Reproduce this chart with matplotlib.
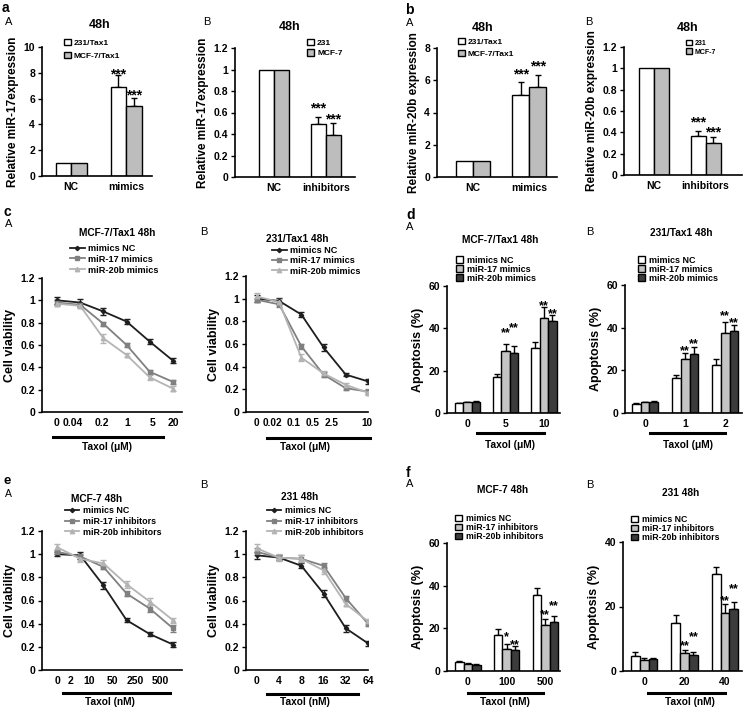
import matplotlib
matplotlib.use('Agg')
import matplotlib.pyplot as plt
from matplotlib.patches import Patch
from matplotlib.lines import Line2D
import numpy as np

plt.rcParams['font.family'] = 'Liberation Sans'
plt.rcParams['font.weight'] = 'bold'
plt.rcParams['axes.labelweight'] = 'bold'

W, H = 746, 709

# ---------------- data ----------------
# a-A  miR-17, resistant lines
aA_groups = ['NC', 'mimics']
aA_231 = [1.0, 6.9]
aA_231_err = [0, 0.9]
aA_mcf = [1.0, 5.45]
aA_mcf_err = [0, 0.6]
aA_stars = [['', '***'], ['', '***']]
aA_star_y = [[0, 8.2], [0, 6.6]]

# a-B  miR-17, parental lines
aB_groups = ['NC', 'inhibitors']
aB_231 = [1.0, 0.49]
aB_231_err = [0, 0.07]
aB_mcf = [1.0, 0.39]
aB_mcf_err = [0, 0.11]
aB_stars = [['', '***'], ['', '***']]
aB_star_y = [[0, 0.68], [0, 0.58]]

# b-A  miR-20b, resistant lines
bA_groups = ['NC', 'mimics']
bA_231 = [1.0, 5.1]
bA_231_err = [0, 0.8]
bA_mcf = [1.0, 5.6]
bA_mcf_err = [0, 0.7]
bA_stars = [['', '***'], ['', '***']]
bA_star_y = [[0, 6.6], [0, 7.1]]

# b-B  miR-20b, parental lines
bB_groups = ['NC', 'inhibitors']
bB_231 = [1.0, 0.37]
bB_231_err = [0, 0.04]
bB_mcf = [1.0, 0.30]
bB_mcf_err = [0, 0.06]
bB_stars = [['', '***'], ['', '***']]
bB_star_y = [[0, 0.53], [0, 0.44]]

# c  cell viability, mimics
cA_doses = ['0', '0.04', '0.2', '1', '5', '20']
cA_label_at = [-0.04, 0.69, 1.94, 3.02, 4.1, 5.0]   # labels were hand placed in the original
cA_nc = [1.0, 0.98, 0.90, 0.81, 0.63, 0.46]
cA_nc_err = [0.03, 0.03, 0.03, 0.02, 0.02, 0.02]
cA_17 = [0.98, 0.96, 0.79, 0.60, 0.36, 0.27]
cA_17_err = [0.02, 0.02, 0.02, 0.02, 0.02, 0.015]
cA_20b = [0.97, 0.95, 0.66, 0.51, 0.31, 0.21]
cA_20b_err = [0.02, 0.02, 0.04, 0.02, 0.02, 0.02]

cB_doses = ['0', '0.02', '0.1', '0.5', '2.5', '10']
cB_label_at = [-0.02, 0.68, 1.64, 2.52, 3.37, 4.95]
cB_nc = [1.0, 0.98, 0.86, 0.57, 0.33, 0.27]
cB_nc_err = [0.03, 0.03, 0.02, 0.03, 0.015, 0.02]
cB_17 = [0.99, 0.95, 0.58, 0.33, 0.21, 0.18]
cB_17_err = [0.02, 0.02, 0.02, 0.02, 0.015, 0.02]
cB_20b = [1.02, 0.97, 0.48, 0.34, 0.24, 0.17]
cB_20b_err = [0.03, 0.03, 0.03, 0.02, 0.02, 0.02]

# d  apoptosis, mimics
dA_doses = ['0', '5', '10']
dA_nc = [4.5, 17.0, 30.5]
dA_nc_err = [0.4, 1.2, 3.0]
dA_17 = [5.0, 29.5, 45.0]
dA_17_err = [0.3, 3.0, 5.0]
dA_20b = [5.3, 28.5, 43.5]
dA_20b_err = [0.4, 3.2, 3.0]
dA_stars = [['', '', ''], ['', '**', '**'], ['', '**', '**']]
dA_star_y = [[0, 0, 0], [0, 40.0, 52.6], [0, 42.4, 48.7]]

dB_doses = ['0', '1', '2']
dB_nc = [4.2, 16.3, 22.5]
dB_nc_err = [0.3, 1.3, 2.6]
dB_17 = [5.0, 25.5, 37.5]
dB_17_err = [0.3, 2.6, 5.2]
dB_20b = [5.3, 27.5, 38.5]
dB_20b_err = [0.4, 3.4, 2.8]
dB_stars = [['', '', ''], ['', '**', '**'], ['', '**', '**']]
dB_star_y = [[0, 0, 0], [0, 31.2, 47.5], [0, 34.3, 44.4]]

# e  cell viability, inhibitors
eA_doses = ['0', '2', '10', '50', '250', '500']
eA_label_at = [0.04, 0.6, 1.38, 2.37, 3.36, 4.44]
eA_nc = [1.0, 0.99, 0.73, 0.43, 0.31, 0.22]
eA_nc_err = [0.02, 0.03, 0.03, 0.015, 0.02, 0.02]
eA_17 = [1.02, 0.98, 0.89, 0.66, 0.53, 0.36]
eA_17_err = [0.02, 0.02, 0.02, 0.02, 0.03, 0.03]
eA_20b = [1.06, 0.96, 0.92, 0.74, 0.59, 0.43]
eA_20b_err = [0.03, 0.03, 0.03, 0.03, 0.03, 0.02]

eB_doses = ['0', '4', '8', '16', '32', '64']
eB_label_at = [0, 1, 2, 3, 4, 5]
eB_nc = [0.99, 0.97, 0.90, 0.66, 0.36, 0.23]
eB_nc_err = [0.03, 0.02, 0.02, 0.03, 0.03, 0.02]
eB_17 = [1.02, 0.97, 0.96, 0.90, 0.62, 0.40]
eB_17_err = [0.03, 0.02, 0.03, 0.02, 0.02, 0.02]
eB_20b = [1.05, 0.97, 0.96, 0.86, 0.57, 0.42]
eB_20b_err = [0.04, 0.03, 0.03, 0.03, 0.02, 0.02]

# f  apoptosis, inhibitors
fA_doses = ['0', '100', '500']
fA_nc = [4.0, 17.0, 35.5]
fA_nc_err = [0.5, 2.8, 3.5]
fA_17 = [3.3, 10.5, 21.5]
fA_17_err = [0.3, 2.0, 2.7]
fA_20b = [2.8, 10.0, 23.0]
fA_20b_err = [0.3, 1.5, 3.0]
fA_stars = [['', '', ''], ['', '*', '**'], ['', '**', '**']]
fA_star_y = [[0, 0, 0], [0, 17.8, 28.4], [0, 14.4, 32.3]]

fB_doses = ['0', '20', '40']
fB_nc = [4.8, 15.0, 30.0]
fB_nc_err = [1.2, 2.3, 2.2]
fB_17 = [3.5, 5.5, 18.0]
fB_17_err = [0.5, 1.0, 2.8]
fB_20b = [3.7, 5.0, 19.3]
fB_20b_err = [0.3, 1.0, 2.2]
fB_stars = [['', '', ''], ['', '**', '**'], ['', '**', '**']]
fB_star_y = [[0, 0, 0], [0, 9.0, 23.2], [0, 11.8, 26.9]]

fig = plt.figure(figsize=(W / 100, H / 100), dpi=100)


def px_axes(left, top, right, bottom):
    return fig.add_axes([left / W, 1 - bottom / H, (right - left) / W, (bottom - top) / H])


def style(ax, ylabel, ylim, yticks, ylab_size=8.5):
    for s in ['top', 'right']:
        ax.spines[s].set_visible(False)
    for s in ['left', 'bottom']:
        ax.spines[s].set_linewidth(1.2)
    ax.set_ylim(ylim)
    ax.set_yticks(yticks)
    ax.set_yticklabels(['%g' % t for t in yticks])
    ax.tick_params(axis='y', direction='out', length=3, width=1, labelsize=7.5, pad=2)
    ax.tick_params(axis='x', length=0, labelsize=7.5, pad=4)
    ax.set_ylabel(ylabel, fontsize=ylab_size, labelpad=3)


def bars(ax, groups, series, errs, colors, width, xlim, stars, star_y, star_size=10):
    x = np.arange(len(groups))
    n = len(series)
    for i in range(n):
        pos = x + (i - (n - 1) / 2) * width
        ax.bar(pos, series[i], width, color=colors[i], edgecolor='black', linewidth=1, zorder=2)
        e = np.array(errs[i])
        keep = e > 0
        ax.errorbar(pos[keep], np.array(series[i])[keep], yerr=[np.zeros(keep.sum()), e[keep]],
                    fmt='none', ecolor='black', elinewidth=1, capsize=2.5, capthick=1, zorder=1)
        for j in range(len(groups)):
            if stars[i][j]:
                ax.annotate(stars[i][j], (pos[j], star_y[i][j]), xytext=(0, -0.6 * star_size),
                            textcoords='offset points', ha='center', va='baseline',
                            fontsize=star_size)
    ax.set_xlim(xlim)
    ax.set_xticks(x)
    ax.set_xticklabels(groups)


def lines(ax, doses, label_at, series, errs, xlim):
    x = np.arange(len(doses))
    for i in range(len(series)):
        ax.errorbar(x, series[i], yerr=errs[i], color=line_cols[i], marker=line_marks[i],
                    ms=line_ms[i], lw=1.3, elinewidth=1, capsize=2, capthick=1,
                    mec=line_cols[i])
    ax.set_xlim(xlim)
    ax.set_xticks(label_at)
    ax.set_xticklabels(doses)


def legend(ax, handles, labels, left, top, size, spacing, hl=0.8, hh=0.8):
    ax.legend(handles, labels, loc='upper left', bbox_to_anchor=(left / W, 1 - top / H),
              bbox_transform=fig.transFigure, frameon=False, fontsize=size, handlelength=hl,
              handleheight=hh, handletextpad=0.4, labelspacing=spacing, borderpad=0,
              borderaxespad=0)


def txt(x, y, s, size, weight='bold', ha='center'):
    fig.text(x / W, 1 - y / H, s, fontsize=size, fontweight=weight, ha=ha, va='center')


def taxol(x0, x1, y, xt, yt, s):
    fig.add_artist(Line2D([x0 / W, x1 / W], [1 - y / H, 1 - y / H], color='black', lw=2.2,
                          transform=fig.transFigure))
    txt(xt, yt, s, 7.3)


two_cols = ['white', '#bdbdbd']
three_cols = ['white', '#c4c4c4', '#3c3c3c']
line_cols = ['#1e1e1e', '#808080', '#b4b4b4']
line_marks = ['D', 's', '^']
line_ms = [2.2, 2.8, 3.2]


def sq(c):
    return Patch(facecolor=c, edgecolor='black', linewidth=1)


def ln(i):
    return Line2D([], [], color=line_cols[i], marker=line_marks[i], ms=line_ms[i], lw=1.3)


# ---------------- row 1 ----------------
ax = px_axes(42, 47, 152, 176)
bars(ax, aA_groups, [aA_231, aA_mcf], [aA_231_err, aA_mcf_err], two_cols, 0.28, (-0.53, 1.47),
     aA_stars, aA_star_y)
style(ax, 'Relative miR-17expression', (0, 10), [0, 2, 4, 6, 8, 10])
legend(ax, [sq(c) for c in two_cols], ['231/Tax1', 'MCF-7/Tax1'], 64, 39, 6, 0.6)
txt(100, 25, '48h', 9)
txt(2, 8, 'a', 10, ha='left')
txt(5, 22, 'A', 8, weight='normal', ha='left')

ax = px_axes(235, 48, 355, 177)
bars(ax, aB_groups, [aB_231, aB_mcf], [aB_231_err, aB_mcf_err], two_cols, 0.29, (-0.76, 1.57),
     aB_stars, aB_star_y)
style(ax, 'Relative miR-17expression', (0, 1.2), [0, 0.2, 0.4, 0.6, 0.8, 1, 1.2])
legend(ax, [sq(c) for c in two_cols], ['231', 'MCF-7'], 307, 39, 6, 0.25)
txt(290, 27, '48h', 9)
txt(203, 22, 'B', 8, weight='normal', ha='left')

ax = px_axes(437, 48, 557, 177)
bars(ax, bA_groups, [bA_231, bA_mcf], [bA_231_err, bA_mcf_err], two_cols, 0.3, (-0.64, 1.49),
     bA_stars, bA_star_y)
style(ax, 'Relative miR-20b expression', (0, 8), [0, 2, 4, 6, 8])
legend(ax, [sq(c) for c in two_cols], ['231/Tax1', 'MCF-7/Tax1'], 458, 38, 6, 0.45)
txt(483, 28, '48h', 9)
txt(405, 10, 'b', 10, ha='left')
txt(406, 23, 'A', 8, weight='normal', ha='left')

ax = px_axes(624, 47, 742, 175)
bars(ax, bB_groups, [bB_231, bB_mcf], [bB_231_err, bB_mcf_err], two_cols, 0.29, (-0.57, 1.70),
     bB_stars, bB_star_y)
style(ax, 'Relative miR-20b expression', (0, 1.2), [0, 0.2, 0.4, 0.6, 0.8, 1, 1.2])
legend(ax, [sq(c) for c in two_cols], ['231', 'MCF-7'], 686, 40, 5, 0.2)
txt(688, 28, '48h', 9)
txt(585, 22, 'B', 8, weight='normal', ha='left')

# ---------------- row 2 ----------------
vt = [0, 0.2, 0.4, 0.6, 0.8, 1, 1.2]
ax = px_axes(42, 278, 182, 412)
lines(ax, cA_doses, cA_label_at, [cA_nc, cA_17, cA_20b], [cA_nc_err, cA_17_err, cA_20b_err],
      (-0.65, 5.39))
style(ax, 'Cell viability', (0, 1.2), vt, 9)
legend(ax, [ln(i) for i in range(3)], ['mimics NC', 'miR-17 mimics', 'miR-20b mimics'],
       70, 244, 6.6, 0.2, hl=1.6)
txt(117, 233, 'MCF-7/Tax1 48h', 7.3)
txt(3, 212, 'c', 10, ha='left')
txt(5, 224, 'A', 8, weight='normal', ha='left')
taxol(53, 163, 437, 107, 447, 'Taxol (\u03bcM)')

ax = px_axes(246, 276, 368, 412)
lines(ax, cB_doses, cB_label_at, [cB_nc, cB_17, cB_20b], [cB_nc_err, cB_17_err, cB_20b_err],
      (-0.49, 5.0))
style(ax, 'Cell viability', (0, 1.2), vt, 9)
ax.tick_params(axis='x', labelsize=7.2)
legend(ax, [ln(i) for i in range(3)], ['mimics NC', 'miR-17 mimics', 'miR-20b mimics'],
       272, 246, 6.6, 0.15, hl=1.6)
txt(297, 239, '231/Tax1 48h', 7.3)
txt(200, 232, 'B', 8, weight='normal', ha='left')
taxol(267, 370, 438, 305, 447, 'Taxol (\u03bcM)')

ax = px_axes(447, 286, 560, 413)
bars(ax, dA_doses, [dA_nc, dA_17, dA_20b], [dA_nc_err, dA_17_err, dA_20b_err], three_cols,
     0.22, (-0.53, 2.42), dA_stars, dA_star_y, 9)
style(ax, 'Apoptosis (%)', (0, 60), [0, 20, 40, 60], 9)
legend(ax, [sq(c) for c in three_cols], ['mimics NC', 'miR-17 mimics', 'miR-20b mimics'],
       456, 256, 6.5, 0.0)
txt(500, 240, 'MCF-7/Tax1 48h', 7.3)
txt(406, 215, 'd', 10, ha='left')
txt(406, 227, 'A', 8, weight='normal', ha='left')
taxol(477, 544, 433, 510, 445, 'Taxol (\u03bcM)')

ax = px_axes(625, 285, 742, 413)
bars(ax, dB_doses, [dB_nc, dB_17, dB_20b], [dB_nc_err, dB_17_err, dB_20b_err], three_cols,
     0.22, (-0.5, 2.42), dB_stars, dB_star_y, 9)
style(ax, 'Apoptosis (%)', (0, 60), [0, 20, 40, 60], 9)
legend(ax, [sq(c) for c in three_cols], ['mimics NC', 'miR-17 mimics', 'miR-20b mimics'],
       638, 256, 6.5, 0.0)
txt(681, 233, '231/Tax1 48h', 7.3)
txt(586, 232, 'B', 8, weight='normal', ha='left')
taxol(650, 725, 433, 688, 445, 'Taxol (\u03bcM)')

# ---------------- row 3 ----------------
ax = px_axes(42, 531, 182, 670)
lines(ax, eA_doses, eA_label_at, [eA_nc, eA_17, eA_20b], [eA_nc_err, eA_17_err, eA_20b_err],
      (-0.65, 5.39))
style(ax, 'Cell viability', (0, 1.2), vt, 9)
legend(ax, [ln(i) for i in range(3)], ['mimics NC', 'miR-17 inhibitors', 'miR-20b inhibitors'],
       65, 506, 6.4, 0.2, hl=1.6)
txt(97, 499, 'MCF-7 48h', 7.3)
txt(3, 481, 'e', 9.5, ha='left')
txt(5, 494, 'A', 7.5, weight='normal', ha='left')
taxol(63, 170, 693, 110, 702, 'Taxol (nM)')

ax = px_axes(246, 531, 368, 670)
lines(ax, eB_doses, eB_label_at, [eB_nc, eB_17, eB_20b], [eB_nc_err, eB_17_err, eB_20b_err],
      (-0.49, 5.0))
style(ax, 'Cell viability', (0, 1.2), vt, 9)
legend(ax, [ln(i) for i in range(3)], ['mimics NC', 'miR-17 inhibitors', 'miR-20b inhibitors'],
       267, 506, 6.4, 0.2, hl=1.6)
txt(300, 497, '231 48h', 7.3)
txt(200, 485, 'B', 8, weight='normal', ha='left')
taxol(267, 358, 694, 305, 702, 'Taxol (nM)')

ax = px_axes(447, 543, 560, 671)
bars(ax, fA_doses, [fA_nc, fA_17, fA_20b], [fA_nc_err, fA_17_err, fA_20b_err], three_cols,
     0.22, (-0.54, 2.38), fA_stars, fA_star_y, 9)
style(ax, 'Apoptosis (%)', (0, 60), [0, 20, 40, 60], 9)
legend(ax, [sq(c) for c in three_cols], ['mimics NC', 'miR-17 inhibitors', 'miR-20b inhibitors'],
       455, 514, 6.3, 0.0)
txt(503, 490, 'MCF-7 48h', 7.3)
txt(406, 473, 'f', 10, ha='left')
txt(406, 484, 'A', 8, weight='normal', ha='left')
taxol(468, 543, 693, 505, 702, 'Taxol (nM)')

ax = px_axes(623, 542, 742, 671)
bars(ax, fB_doses, [fB_nc, fB_17, fB_20b], [fB_nc_err, fB_17_err, fB_20b_err], three_cols,
     0.22, (-0.52, 2.42), fB_stars, fB_star_y, 9)
style(ax, 'Apoptosis (%)', (0, 40), [0, 20, 40], 9)
legend(ax, [sq(c) for c in three_cols], ['mimics NC', 'miR-17 inhibitors', 'miR-20b inhibitors'],
       631, 515, 6.3, 0.0)
txt(681, 493, '231 48h', 7.3)
txt(586, 485, 'B', 8, weight='normal', ha='left')
taxol(648, 725, 693, 690, 702, 'Taxol (nM)')

fig.savefig('out.png', dpi=100)
